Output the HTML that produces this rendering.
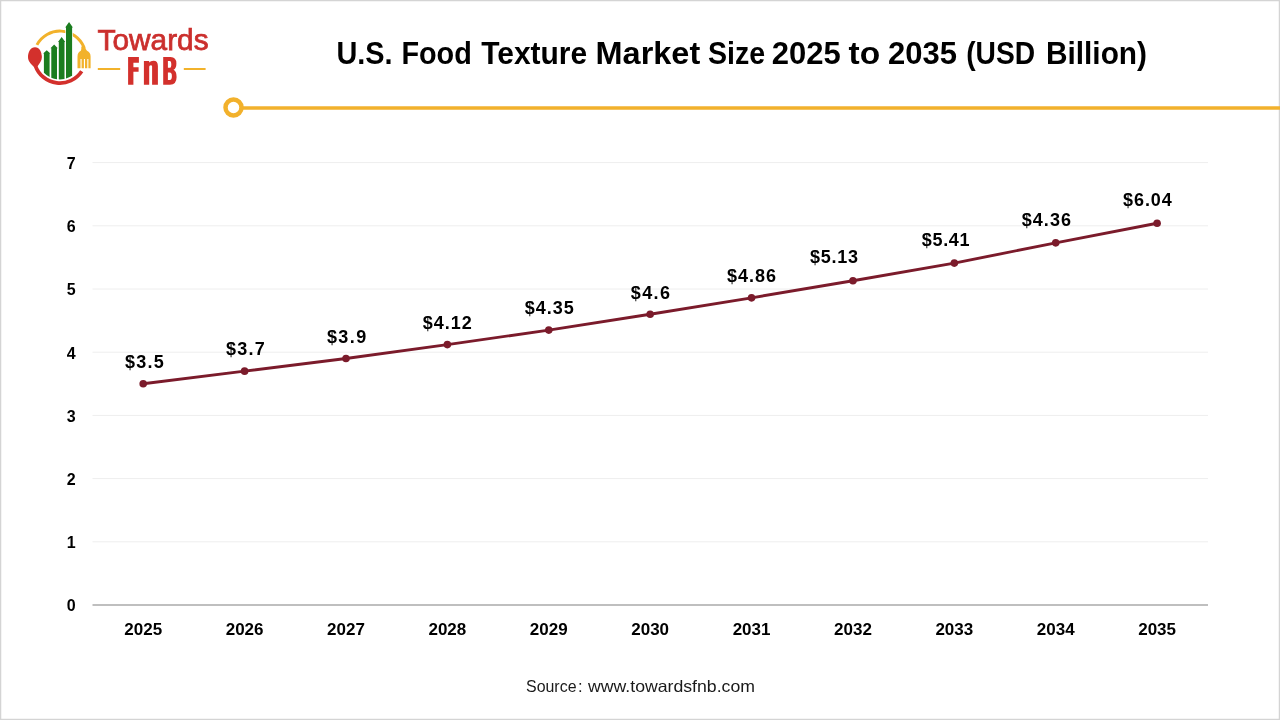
<!DOCTYPE html>
<html><head><meta charset="utf-8">
<style>
html,body{margin:0;padding:0;background:#fff;}
body{width:1280px;height:720px;position:relative;overflow:hidden;font-family:"Liberation Sans",sans-serif;}
svg{position:absolute;left:0;top:0;will-change:transform;}
text{font-family:"Liberation Sans",sans-serif;}
.yl{font-weight:bold;font-size:16px;fill:#000;}
.xl{font-weight:bold;font-size:17px;fill:#000;}
.dl{font-weight:bold;font-size:18px;fill:#000;}
.title{font-weight:bold;font-size:31px;fill:#000;}
.src{font-size:16.5px;fill:#1a1a1a;}
.tow{font-weight:normal;font-size:30px;fill:#cb2f2d;stroke:#cb2f2d;stroke-width:0.75px;}
</style></head>
<body>
<svg width="1280" height="720" viewBox="0 0 1280 720">
<rect x="0.5" y="0.5" width="1279" height="719" fill="#fff" stroke="#d4d4d4" stroke-width="1.5"/>
<text x="336.40" y="64" class="title" textLength="56.20" lengthAdjust="spacingAndGlyphs">U.S.</text><text x="401.40" y="64" class="title" textLength="70.40" lengthAdjust="spacingAndGlyphs">Food</text><text x="481.20" y="64" class="title" textLength="106.00" lengthAdjust="spacingAndGlyphs">Texture</text><text x="595.60" y="64" class="title" textLength="104.60" lengthAdjust="spacingAndGlyphs">Market</text><text x="708.00" y="64" class="title" textLength="57.20" lengthAdjust="spacingAndGlyphs">Size</text><text x="771.80" y="64" class="title" textLength="69.00" lengthAdjust="spacingAndGlyphs">2025</text><text x="848.60" y="64" class="title" textLength="31.60" lengthAdjust="spacingAndGlyphs">to</text><text x="888.00" y="64" class="title" textLength="69.00" lengthAdjust="spacingAndGlyphs">2035</text><text x="966.20" y="64" class="title" textLength="69.00" lengthAdjust="spacingAndGlyphs">(USD</text><text x="1046.00" y="64" class="title" textLength="101.00" lengthAdjust="spacingAndGlyphs">Billion)</text>
<line x1="243" x2="1280" y1="108" y2="108" stroke="#f2b12c" stroke-width="3.5"/>
<circle cx="233.5" cy="107.5" r="8" fill="#fff" stroke="#f2b12c" stroke-width="4.5"/>

<g>
<path d="M36.94,44.89 A26.0,26.0 0 0 1 84.01,47.36" fill="none" stroke="#f2b22b" stroke-width="3"/>
<path d="M81.71,71.26 A26.0,26.0 0 0 1 35.32,65.56" fill="none" stroke="#d3302c" stroke-width="3.7"/>
<path d="M81.3,46.5 L85.4,47 Q85.4,50 87,50.8 Q90.6,52.3 90.6,56.5 L90.6,68.3 L88.4,68.3 L88.4,59 L87.3,59 L87.3,68.3 L85,68.3 L85,59 L83.9,59 L83.9,68.3 L81.6,68.3 L81.6,59 L80.5,59 L80.5,68.3 L77.5,68.3 L77.5,56.5 Q77.5,52.3 80.8,50.8 Q81.6,50.2 81.3,46.5 Z" fill="#f2b22b"/>
<path d="M35,47.2 C39.5,47.2 41.9,52 41.9,57 C41.9,61 39.5,63.5 37.4,66.4 L33.4,66.4 C30.5,63.5 28,61 28,57 C28,52 30.5,47.2 35,47.2 Z" fill="#d3302c"/>
<path d="M43.90,72.63 L43.90,53.60 L43.10,53.60 L46.75,50.20 L50.40,53.60 L49.60,53.60 L49.60,76.88 A22.3,22.3 0 0 1 43.90,72.63 Z" fill="#1b7d1f" stroke="#fff" stroke-width="1.3" paint-order="stroke"/><path d="M51.30,77.67 L51.30,48.30 L50.50,48.30 L54.15,44.40 L57.80,48.30 L57.00,48.30 L57.00,79.21 A22.3,22.3 0 0 1 51.30,77.67 Z" fill="#1b7d1f" stroke="#fff" stroke-width="1.3" paint-order="stroke"/><path d="M58.80,79.37 L58.80,41.90 L58.00,41.90 L61.65,36.90 L65.30,41.90 L64.50,41.90 L64.50,78.92 A22.3,22.3 0 0 1 58.80,79.37 Z" fill="#1b7d1f" stroke="#fff" stroke-width="1.3" paint-order="stroke"/><path d="M66.00,78.55 L66.00,27.40 L65.20,27.40 L69.05,21.90 L72.90,27.40 L72.10,27.40 L72.10,75.77 A22.3,22.3 0 0 1 66.00,78.55 Z" fill="#1b7d1f" stroke="#fff" stroke-width="1.3" paint-order="stroke"/>
</g>
<text x="97.6" y="49.6" class="tow" textLength="111" lengthAdjust="spacingAndGlyphs">Towards</text>
<line x1="97.8" x2="120.2" y1="69" y2="69" stroke="#f2b22b" stroke-width="2"/>
<line x1="183.8" x2="205.6" y1="69" y2="69" stroke="#f2b22b" stroke-width="2"/>
<g fill="#d3302c">
<path d="M128.1,57 L138.9,57 L138.9,62.8 L133.4,62.8 L133.4,67.3 L138.6,67.3 L138.6,71.8 L133.4,71.8 L133.4,84.7 L128.1,84.7 Z"/>
<path d="M143.9,61 L149.2,61 L149.2,62.6 Q150.5,60.8 153.5,60.8 Q157.9,60.8 157.9,66 L157.9,84.7 L152.1,84.7 L152.1,66.5 Q152.1,65.2 150.8,65.2 Q149.2,65.2 149.2,66.8 L149.2,84.7 L143.9,84.7 Z"/>
<path fill-rule="evenodd" d="M163.2,57 L170.5,57 Q176.4,57 176.4,63.5 Q176.4,68.5 173.5,69.8 Q176.6,71.2 176.6,77 Q176.6,84.7 170,84.7 L163.2,84.7 Z M167.9,61 L167.9,67.8 L169.6,67.8 Q171.3,67.8 171.3,64.4 Q171.3,61 169.6,61 Z M167.9,72.6 L167.9,80 L169.8,80 Q171.9,80 171.9,76.3 Q171.9,72.6 169.8,72.6 Z"/>
</g>

<line x1="92.5" x2="1208" y1="541.80" y2="541.80" stroke="#eeeeee" stroke-width="1"/><line x1="92.5" x2="1208" y1="478.60" y2="478.60" stroke="#eeeeee" stroke-width="1"/><line x1="92.5" x2="1208" y1="415.40" y2="415.40" stroke="#eeeeee" stroke-width="1"/><line x1="92.5" x2="1208" y1="352.20" y2="352.20" stroke="#eeeeee" stroke-width="1"/><line x1="92.5" x2="1208" y1="289.00" y2="289.00" stroke="#eeeeee" stroke-width="1"/><line x1="92.5" x2="1208" y1="225.80" y2="225.80" stroke="#eeeeee" stroke-width="1"/><line x1="92.5" x2="1208" y1="162.60" y2="162.60" stroke="#eeeeee" stroke-width="1"/>
<line x1="92.5" x2="1208" y1="605" y2="605" stroke="#bfbfbf" stroke-width="2"/>
<text x="75.6" y="611.30" text-anchor="end" class="yl">0</text><text x="75.6" y="548.10" text-anchor="end" class="yl">1</text><text x="75.6" y="484.90" text-anchor="end" class="yl">2</text><text x="75.6" y="421.70" text-anchor="end" class="yl">3</text><text x="75.6" y="358.50" text-anchor="end" class="yl">4</text><text x="75.6" y="295.30" text-anchor="end" class="yl">5</text><text x="75.6" y="232.10" text-anchor="end" class="yl">6</text><text x="75.6" y="168.90" text-anchor="end" class="yl">7</text>
<polyline points="143.20,383.80 244.59,371.16 345.98,358.52 447.37,344.62 548.76,330.08 650.15,314.28 751.54,297.85 852.93,280.78 954.32,263.09 1055.71,242.86 1157.10,223.27" fill="none" stroke="#7b1b2b" stroke-width="2.9" stroke-linejoin="round"/>
<circle cx="143.20" cy="383.80" r="3.8" fill="#7b1b2b"/><circle cx="244.59" cy="371.16" r="3.8" fill="#7b1b2b"/><circle cx="345.98" cy="358.52" r="3.8" fill="#7b1b2b"/><circle cx="447.37" cy="344.62" r="3.8" fill="#7b1b2b"/><circle cx="548.76" cy="330.08" r="3.8" fill="#7b1b2b"/><circle cx="650.15" cy="314.28" r="3.8" fill="#7b1b2b"/><circle cx="751.54" cy="297.85" r="3.8" fill="#7b1b2b"/><circle cx="852.93" cy="280.78" r="3.8" fill="#7b1b2b"/><circle cx="954.32" cy="263.09" r="3.8" fill="#7b1b2b"/><circle cx="1055.71" cy="242.86" r="3.8" fill="#7b1b2b"/><circle cx="1157.10" cy="223.27" r="3.8" fill="#7b1b2b"/>
<text x="125.00" y="367.70" class="dl" textLength="38.70" lengthAdjust="spacing">$3.5</text><text x="225.90" y="354.65" class="dl" textLength="38.90" lengthAdjust="spacing">$3.7</text><text x="326.90" y="342.80" class="dl" textLength="39.30" lengthAdjust="spacing">$3.9</text><text x="422.70" y="328.80" class="dl" textLength="49.00" lengthAdjust="spacing">$4.12</text><text x="524.80" y="313.50" class="dl" textLength="49.00" lengthAdjust="spacing">$4.35</text><text x="630.70" y="298.50" class="dl" textLength="39.30" lengthAdjust="spacing">$4.6</text><text x="726.90" y="281.70" class="dl" textLength="49.00" lengthAdjust="spacing">$4.86</text><text x="810.00" y="262.60" class="dl" textLength="47.90" lengthAdjust="spacing">$5.13</text><text x="921.70" y="245.70" class="dl" textLength="47.90" lengthAdjust="spacing">$5.41</text><text x="1021.70" y="225.70" class="dl" textLength="49.30" lengthAdjust="spacing">$4.36</text><text x="1123.10" y="205.70" class="dl" textLength="48.60" lengthAdjust="spacing">$6.04</text>
<text x="143.20" y="635" text-anchor="middle" class="xl">2025</text><text x="244.59" y="635" text-anchor="middle" class="xl">2026</text><text x="345.98" y="635" text-anchor="middle" class="xl">2027</text><text x="447.37" y="635" text-anchor="middle" class="xl">2028</text><text x="548.76" y="635" text-anchor="middle" class="xl">2029</text><text x="650.15" y="635" text-anchor="middle" class="xl">2030</text><text x="751.54" y="635" text-anchor="middle" class="xl">2031</text><text x="852.93" y="635" text-anchor="middle" class="xl">2032</text><text x="954.32" y="635" text-anchor="middle" class="xl">2033</text><text x="1055.71" y="635" text-anchor="middle" class="xl">2034</text><text x="1157.10" y="635" text-anchor="middle" class="xl">2035</text>
<text x="526.00" y="692" class="src" textLength="50.50" lengthAdjust="spacingAndGlyphs">Source</text><text x="578.00" y="692" class="src">:</text><text x="588.00" y="692" class="src" textLength="167.00" lengthAdjust="spacingAndGlyphs">www.towardsfnb.com</text>
</svg>
</body></html>
